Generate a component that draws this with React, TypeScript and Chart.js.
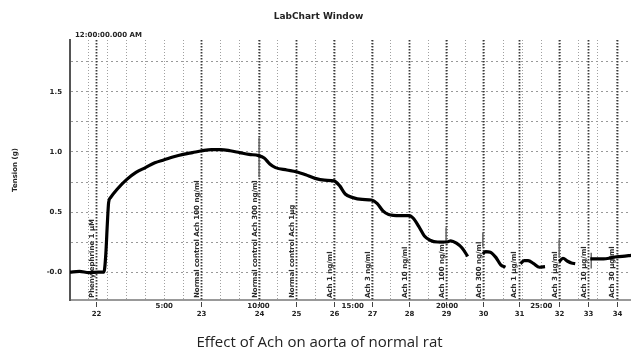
import { useEffect, useRef } from "react";
import { Chart, registerables } from "chart.js";

Chart.register(...registerables);

// ---- Data (time in minutes, tension in g) ----
const timeMin = [
  0, 0.5, 1.0, 1.5, 1.8, 1.9, 1.98, 2.05, 2.15, 2.5, 3.0, 3.5, 4.0, 4.5, 5.0, 5.5, 6.0, 6.5, 7.0, 7.5,
  8.0, 8.5, 9.0, 9.5, 10.0, 10.3, 10.6, 10.9, 11.5, 12.0, 12.5, 13.0, 13.5, 14.0, 14.3, 14.6, 15.0,
  15.5, 16.0, 16.3, 16.6, 16.9, 17.5, 18.0, 18.2, 18.5, 18.8, 19.1, 19.5, 20.0, 20.2, 20.5, 20.8, 21.1,
  21.5,
  21.9, 22.05, 22.3, 22.6, 22.85, 23.1,
  23.5,
  23.9, 24.1, 24.3, 24.6, 24.9, 25.2,
  25.6,
  25.95, 26.15, 26.4, 26.6, 26.8,
  27.2,
  27.6, 28.0, 28.3, 28.6, 28.9, 29.3, 29.8,
];
const tension = [
  0.0, 0.005, -0.005, 0.0, 0.0, 0.15, 0.4, 0.58, 0.62, 0.69, 0.77, 0.83, 0.87, 0.91, 0.935, 0.96, 0.98, 0.995, 1.01, 1.02,
  1.02, 1.01, 0.995, 0.98, 0.97, 0.95, 0.9, 0.87, 0.85, 0.835, 0.81, 0.78, 0.765, 0.76, 0.72, 0.65, 0.62,
  0.605, 0.6, 0.57, 0.51, 0.48, 0.47, 0.47, 0.45, 0.38, 0.3, 0.265, 0.25, 0.25, 0.26, 0.24, 0.2, 0.13,
  null,
  0.15, 0.17, 0.165, 0.12, 0.06, 0.04,
  null,
  0.07, 0.095, 0.095, 0.07, 0.04, 0.045,
  null,
  0.085, 0.115, 0.09, 0.075, 0.07,
  null,
  0.11, 0.11, 0.11, 0.115, 0.125, 0.13, 0.14,
];

const eventTimes = [1.38, 6.95, 10.03, 11.99, 14.0, 16.02, 18.0, 19.95, 21.9, 23.8, 25.95, 27.5, 29.0];
const eventNumbers = ["22", "23", "24", "25", "26", "27", "28", "29", "30", "31", "32", "33", "34"];
const eventLabels = [
  "Phenylephrine 1 µM",
  "Normal control Ach 100 ng/ml",
  "Normal control Ach 300 ng/ml",
  "Normal control Ach 1µg",
  "Ach 1 ng/ml",
  "Ach 3 ng/ml",
  "Ach 10 ng/ml",
  "Ach 100 ng/ml",
  "Ach 300 ng/ml",
  "Ach 1 µg/ml",
  "Ach 3 µg/ml",
  "Ach 10 µg/ml",
  "Ach 30 µg/ml",
];

const spikeTimes = [10.03, 19.95, 21.9, 25.95, 27.65];
const spikeTop = [1.12, 0.37, 0.33, 0.27, 0.16];
const spikeBottom = [0.79, 0.25, 0.21, 0.12, 0.03];

const timeTicks = [5, 10, 15, 20, 25];
const timeTickLabels = ["5:00", "10:00", "15:00", "20:00", "25:00"];

const yTickValues = [0, 0.5, 1.0, 1.5];
const yTickLabels = ["-0.0", "0.5", "1.0", "1.5"];

const xMin = 0;
const xMax = 29.76;
const yMin = -0.233;
const yMax = 1.933;

const chartTitle = "LabChart Window";
const startTime = "12:00:00.000 AM";
const yTitle = "Tension (g)";
const caption = "Effect of Ach on aorta of normal rat";

const overlay = {
  id: "labchartOverlay",
  beforeDatasetsDraw(chart: any) {
    const { ctx, chartArea, scales } = chart;
    const xs = scales.x;
    const ys = scales.y;
    ctx.save();
    // event marker lines
    eventTimes.forEach((t) => {
      const px = Math.round(xs.getPixelForValue(t)) + 0.5;
      ctx.strokeStyle = "#3a3a3a";
      ctx.lineWidth = 1.8;
      ctx.setLineDash([1.5, 1.5]);
      ctx.beginPath();
      ctx.moveTo(px, chartArea.top);
      ctx.lineTo(px, chartArea.bottom);
      ctx.stroke();
    });
    ctx.setLineDash([]);
    // event labels (rotated)
    ctx.font = "bold 7px 'DejaVu Sans'";
    ctx.fillStyle = "#2a2a2a";
    ctx.textAlign = "left";
    ctx.textBaseline = "middle";
    eventTimes.forEach((t, i) => {
      const px = xs.getPixelForValue(t);
      ctx.save();
      ctx.translate(px - 4, chartArea.bottom - 2);
      ctx.rotate(-Math.PI / 2);
      ctx.fillText(eventLabels[i], 0, 0);
      ctx.restore();
    });
    // comment spikes
    ctx.strokeStyle = "#6a6a6a";
    ctx.lineWidth = 1.5;
    spikeTimes.forEach((t, i) => {
      const px = xs.getPixelForValue(t);
      ctx.beginPath();
      ctx.moveTo(px, ys.getPixelForValue(spikeTop[i]));
      ctx.lineTo(px, ys.getPixelForValue(spikeBottom[i]));
      ctx.stroke();
    });
    ctx.restore();
  },
  afterDraw(chart: any) {
    const { ctx, chartArea, scales, width } = chart;
    const xs = scales.x;
    const ys = scales.y;
    ctx.save();
    ctx.fillStyle = "#222";
    // title
    ctx.font = "bold 9px 'DejaVu Sans'";
    ctx.textAlign = "center";
    ctx.textBaseline = "middle";
    ctx.fillText(chartTitle, width / 2 + 3, 17);
    // start time
    ctx.font = "bold 7px 'DejaVu Sans'";
    ctx.textAlign = "left";
    ctx.fillText(startTime, chartArea.left + 5, 35);
    // y title
    ctx.save();
    ctx.translate(15, ys.getPixelForValue(0.85));
    ctx.rotate(-Math.PI / 2);
    ctx.textAlign = "center";
    ctx.fillText(yTitle, 0, 0);
    ctx.restore();
    // bottom event ticks & numbers
    ctx.textAlign = "center";
    ctx.strokeStyle = "#444";
    ctx.lineWidth = 1;
    eventTimes.forEach((t, i) => {
      const px = Math.round(xs.getPixelForValue(t)) + 0.5;
      ctx.beginPath();
      ctx.moveTo(px, chartArea.bottom + 2);
      ctx.lineTo(px, chartArea.bottom + 7);
      ctx.stroke();
      ctx.fillText(eventNumbers[i], px, chartArea.bottom + 14);
    });
    // time labels
    timeTicks.forEach((t, i) => {
      ctx.fillText(timeTickLabels[i], xs.getPixelForValue(t), chartArea.bottom + 6);
    });
    ctx.restore();
  },
};

export default function App() {
  const ref = useRef<HTMLCanvasElement>(null);
  useEffect(() => {
    const data = timeMin.map((t, i) => ({ x: t, y: tension[i] }));
    const chart = new Chart(ref.current as HTMLCanvasElement, {
      type: "line",
      data: {
        datasets: [
          {
            data: data as any,
            borderColor: "#000",
            borderWidth: 3.2,
            pointRadius: 0,
            cubicInterpolationMode: "monotone",
            spanGaps: false,
          },
        ],
      },
      options: {
        animation: false,
        responsive: false,
        devicePixelRatio: 1,
        layout: { padding: { top: 40, left: 0, right: 0, bottom: 0 } },
        plugins: { legend: { display: false }, tooltip: { enabled: false }, title: { display: false } },
        scales: {
          x: {
            type: "linear",
            min: xMin,
            max: xMax,
            afterFit: (s: any) => {
              s.height = 22;
            },
            ticks: { stepSize: 1, display: false, includeBounds: false },
            grid: { color: "#a0a0a0", lineWidth: 1, drawTicks: false },
            border: { display: true, color: "#999", width: 2, dash: [1, 2] },
          },
          y: {
            type: "linear",
            min: yMin,
            max: yMax,
            afterFit: (s: any) => {
              s.width = 70;
            },
            ticks: {
              stepSize: 0.25,
              includeBounds: false,
              padding: 8,
              color: "#222",
              font: { family: "'DejaVu Sans'", size: 7, weight: "bold" },
              callback: (v: any) => {
                const i = yTickValues.findIndex((t) => Math.abs(t - Number(v)) < 1e-6);
                return i >= 0 ? yTickLabels[i] : "";
              },
            },
            grid: { color: "#999", lineWidth: 1, drawTicks: false },
            border: { display: true, color: "#555", width: 2, dash: [2, 3] },
          },
        },
      },
      plugins: [overlay],
    });
    return () => chart.destroy();
  }, []);
  return (
    <div style={{ position: "fixed", left: 0, top: 0, width: 631, height: 351, background: "#fff" }}>
      <canvas ref={ref} width={631} height={322} style={{ display: "block", width: 631, height: 322 }} />
      <div
        style={{
          position: "absolute",
          top: 331,
          left: 4,
          width: 631,
          textAlign: "center",
          font: "15px 'Open Sans'",
          lineHeight: "20px",
          color: "#222",
        }}
      >
        {caption}
      </div>
    </div>
  );
}
